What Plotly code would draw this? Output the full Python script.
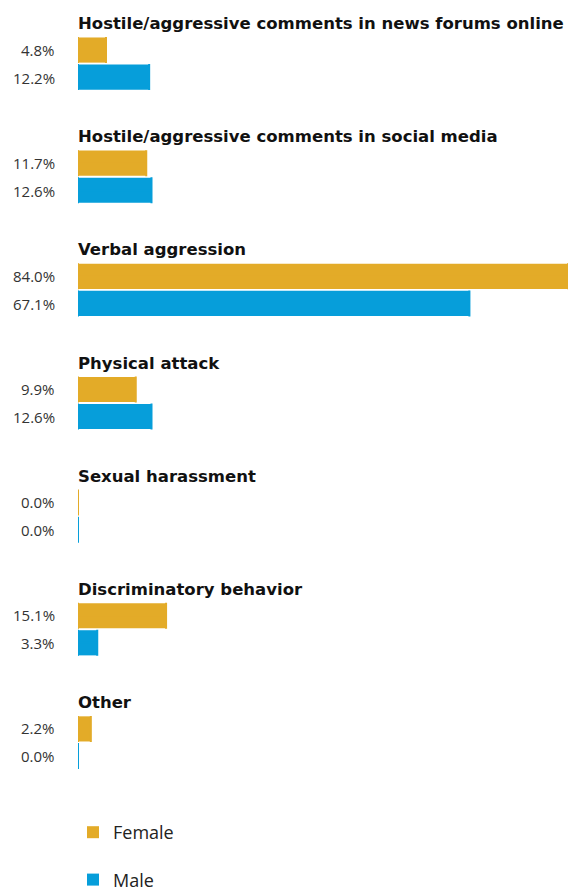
import plotly.graph_objects as go

# Categories, top to bottom
categories = [
    "Hostile/aggressive comments in news forums online",
    "Hostile/aggressive comments in social media",
    "Verbal aggression",
    "Physical attack",
    "Sexual harassment",
    "Discriminatory behavior",
    "Other",
]
female = [4.8, 11.7, 84.0, 9.9, 0.0, 15.1, 2.2]
male = [12.2, 12.6, 67.1, 12.6, 0.0, 3.3, 0.0]

series = [("Female", female, "#E3AB28"), ("Male", male, "#069EDA")]

fig = go.Figure()
for name, vals, color in series:
    fig.add_trace(go.Bar(
        name=name,
        y=categories,
        x=vals,
        orientation="h",
        marker=dict(color=color, line=dict(width=0)),
        # thin cap at the bar's base so zero values still show a sliver
        error_x=dict(type="data", array=[0] * len(vals), arrayminus=vals,
                     symmetric=False, color=color, thickness=2, width=13),
        legendgroup=name,
        hoverinfo="skip",
    ))

annotations = []
for cat in categories:
    annotations.append(dict(
        x=0, y=cat, xref="x", yref="y", text=cat, showarrow=False,
        xanchor="left", yanchor="middle", yshift=40, xshift=-2,
        font=dict(family="DejaVu Sans", size=16.5, color="#111111", weight="bold"),
    ))
for (name, vals, color), shift in zip(series, [14, -14]):
    for cat, v in zip(categories, vals):
        annotations.append(dict(
            x=0, y=cat, xref="x", yref="y", text=f"{v:.1f}%", showarrow=False,
            xanchor="right", yanchor="middle", xshift=-21, yshift=shift,
            font=dict(family="Open Sans", size=15, color="#333333"),
        ))

fig.update_layout(
    width=568, height=891,
    margin=dict(l=78, r=0, t=7, b=92, autoexpand=False),
    paper_bgcolor="white", plot_bgcolor="white",
    barmode="group", bargap=0.522, bargroupgap=0.07,
    xaxis=dict(range=[0, 84.0], visible=False, fixedrange=True),
    yaxis=dict(categoryorder="array", categoryarray=categories,
               autorange="reversed", visible=False, fixedrange=True),
    annotations=annotations,
    legend=dict(
        xref="container", yref="container",
        x=73 / 568, y=1 - 814 / 891, xanchor="left", yanchor="top",
        font=dict(family="Open Sans", size=18, color="#222222"),
        tracegroupgap=21, itemclick=False, itemdoubleclick=False,
    ),
    showlegend=True,
)

fig.write_html("out.html")
